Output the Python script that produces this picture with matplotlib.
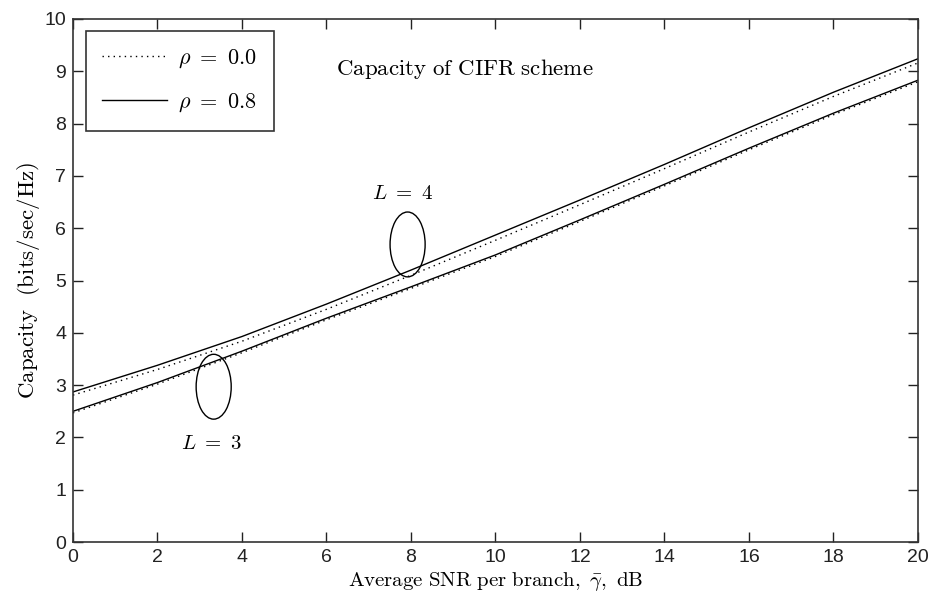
import matplotlib
matplotlib.use("Agg")
import matplotlib.pyplot as plt
from matplotlib.patches import Ellipse

plt.rcParams["mathtext.fontset"] = "cm"
plt.rcParams["font.family"] = ["Liberation Sans", "DejaVu Sans"]

snr_db = [0, 2, 4, 6, 8, 10, 12, 14, 16, 18, 20]
cap_L4_r08 = [2.87, 3.38, 3.93, 4.55, 5.20, 5.87, 6.54, 7.22, 7.92, 8.60, 9.24]
cap_L4_r00 = [2.81, 3.30, 3.84, 4.45, 5.10, 5.77, 6.45, 7.14, 7.84, 8.52, 9.16]
cap_L3_r08 = [2.50, 3.05, 3.65, 4.28, 4.88, 5.49, 6.16, 6.84, 7.53, 8.20, 8.83]
cap_L3_r00 = [2.47, 3.02, 3.62, 4.25, 4.85, 5.46, 6.13, 6.81, 7.50, 8.17, 8.80]

xticks = list(range(0, 21, 2))
yticks = list(range(0, 11))

fig = plt.figure(figsize=(9.31, 6.05), dpi=100)
ax = fig.add_axes([0.0784, 0.104, 0.9076, 0.8646])

ax.plot(snr_db, cap_L4_r00, color="black", lw=1.0, ls=(0, (1, 3)), label=r"$\rho\ =\ 0.0$")
ax.plot(snr_db, cap_L4_r08, color="black", lw=1.0, label=r"$\rho\ =\ 0.8$")
ax.plot(snr_db, cap_L3_r00, color="black", lw=1.0, ls=(0, (1, 3)))
ax.plot(snr_db, cap_L3_r08, color="black", lw=1.0)

ax.add_patch(Ellipse((3.33, 2.97), 0.83, 1.24, fill=False, ec="black", lw=1.0))
ax.add_patch(Ellipse((7.92, 5.69), 0.83, 1.24, fill=False, ec="black", lw=1.0))
ax.text(3.29, 1.89, r"$L\ =\ 3$", ha="center", va="center", fontsize=15)
ax.text(7.8, 6.67, r"$L\ =\ 4$", ha="center", va="center", fontsize=15)
ax.text(6.22, 9.04, r"$\mathrm{Capacity\ of\ CIFR\ scheme}$", ha="left", va="center", fontsize=16.5)

ax.set_xlim(0, 20)
ax.set_ylim(0, 10)
ax.set_xticks(xticks)
ax.set_yticks(yticks)
ax.tick_params(direction="in", length=7, width=1, top=True, right=True,
               labelsize=14, colors="#222222", pad=5)
for s in ax.spines.values():
    s.set_linewidth(1.2)
    s.set_color("#333333")

ax.set_xlabel(r"$\mathrm{Average\ SNR\ per\ branch,\ }\bar{\gamma}\mathrm{,\ dB}$", fontsize=15, labelpad=3)
ax.set_ylabel(r"$\mathrm{Capacity\ \ (bits/sec/Hz)}$", fontsize=16.5, labelpad=2)

leg = ax.legend(loc="upper left", bbox_to_anchor=(0.015, 0.977), borderaxespad=0,
                fancybox=False, edgecolor="black", fontsize=16, handlelength=2.9,
                labelspacing=0.95, borderpad=0.75, handletextpad=0.5)
leg.get_frame().set_linewidth(1.2)

fig.savefig("out.png", dpi=100)
